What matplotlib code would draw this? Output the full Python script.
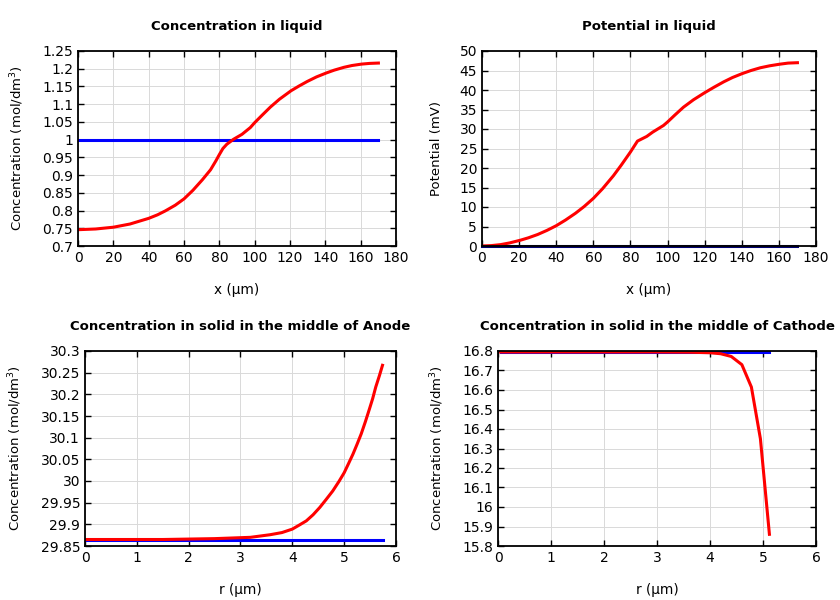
import matplotlib
matplotlib.use('Agg')
import matplotlib.pyplot as plt
from matplotlib.ticker import MultipleLocator, FuncFormatter

plt.rcParams['font.family'] = ['DejaVu Sans']
plt.rcParams['font.size'] = 10

# ── 液相浓度 ──
x_liq = [0, 10, 20, 29.4, 40, 45, 49.4, 55, 60, 65, 70.4, 75, 78, 80, 82, 84.2, 88, 92.8,
         97.5, 100, 104, 108.9, 114, 120.6, 125, 129.7, 135, 140.5, 145, 150.5, 155,
         160.4, 165, 170]
c_liq_end = [0.746, 0.748, 0.753, 0.762, 0.778, 0.788, 0.799, 0.815, 0.833, 0.857, 0.887,
             0.915, 0.940, 0.958, 0.975, 0.987, 1.001, 1.015, 1.034, 1.048, 1.068, 1.092,
             1.114, 1.138, 1.151, 1.164, 1.177, 1.188, 1.196, 1.204, 1.209, 1.213, 1.215, 1.216]
c_liq_init = [1.0] * len(x_liq)

# ── 液相电势 ──
x_phi = [0, 5, 10, 15, 20.8, 25, 30, 35, 40, 45, 50.4, 55, 60, 65, 70.8, 75, 80, 83.8,
         88.8, 92, 97.8, 100, 104, 108.6, 114, 120, 125, 130.3, 135, 140.2, 145, 150,
         155, 160.2, 165, 170]
phi_liq_end = [0.0, 0.1, 0.35, 0.8, 1.5, 2.1, 2.95, 4.0, 5.2, 6.65, 8.4, 10.1, 12.2, 14.7,
               18.0, 20.7, 24.1, 26.9, 28.1, 29.2, 30.9, 31.8, 33.6, 35.6, 37.5, 39.3,
               40.7, 42.1, 43.2, 44.2, 45.0, 45.7, 46.2, 46.6, 46.9, 47.0]
phi_liq_init = [0.0] * len(x_phi)

# ── 负极固相浓度 ──
r_an = [0, 0.5, 1, 1.5, 2, 2.5, 3.19, 3.57, 3.8, 4.0, 4.13, 4.27, 4.4, 4.53, 4.65, 4.78,
        4.9, 5.0, 5.08, 5.17, 5.25, 5.33, 5.41, 5.49, 5.55, 5.61, 5.68, 5.74]
c_an_end = [29.865, 29.865, 29.865, 29.865, 29.866, 29.867, 29.870, 29.876, 29.881, 29.889,
            29.898, 29.908, 29.922, 29.939, 29.957, 29.977, 29.999, 30.019, 30.039, 30.062,
            30.085, 30.109, 30.137, 30.167, 30.190, 30.217, 30.243, 30.267]
c_an_init = [29.864] * len(r_an)

# ── 正极固相浓度 ──
r_ca = [0.05, 1, 2, 3, 3.6, 4.0, 4.2, 4.4, 4.6, 4.78, 4.95, 5.12]
c_ca_end = [16.795, 16.795, 16.795, 16.795, 16.794, 16.791, 16.786, 16.772, 16.730, 16.615, 16.350, 15.860]
c_ca_init = [16.795] * len(r_ca)

fmt = FuncFormatter(lambda v, p: '%g' % round(v, 4))


def style_ax(ax, title, xlabel, ylabel, xlim, xstep, ylim, ystep):
    ax.set_xlim(*xlim)
    ax.set_ylim(*ylim)
    ax.xaxis.set_major_locator(MultipleLocator(xstep))
    ax.yaxis.set_major_locator(MultipleLocator(ystep))
    ax.xaxis.set_major_formatter(fmt)
    ax.yaxis.set_major_formatter(fmt)
    ax.grid(True, color='#d9d9d9', linewidth=0.7)
    ax.set_axisbelow(True)
    ax.tick_params(direction='in', length=4, width=1, top=True, right=True, labelsize=10)
    for s in ax.spines.values():
        s.set_linewidth(1.3)
    ax.set_title(title, fontsize=9.5, fontweight='bold', pad=15)
    ax.set_xlabel(xlabel, labelpad=13, fontsize=9.8)
    ax.set_ylabel(ylabel, labelpad=12, fontsize=9.5)


fig = plt.figure(figsize=(8.4, 6), dpi=100)
ax1 = fig.add_axes([0.0929, 0.59, 0.3786, 0.325])
ax2 = fig.add_axes([0.5738, 0.59, 0.3976, 0.325])
ax3 = fig.add_axes([0.1012, 0.09, 0.3702, 0.325])
ax4 = fig.add_axes([0.5929, 0.09, 0.3786, 0.325])

lw = 2.2
ax1.plot(x_liq, c_liq_init, color='blue', lw=lw)
ax1.plot(x_liq, c_liq_end, color='red', lw=lw)
style_ax(ax1, 'Concentration in liquid', 'x (µm)', 'Concentration (mol/dm$^3$)',
         (0, 180), 20, (0.7, 1.25), 0.05)

ax2.plot(x_phi, phi_liq_init, color='#000070', lw=lw, clip_on=False)
ax2.plot(x_phi, phi_liq_end, color='red', lw=lw)
style_ax(ax2, 'Potential in liquid', 'x (µm)', 'Potential (mV)',
         (0, 180), 20, (0, 50), 5)

ax3.plot(r_an, c_an_init, color='blue', lw=lw)
ax3.plot(r_an, c_an_end, color='red', lw=lw)
style_ax(ax3, 'Concentration in solid in the middle of Anode', 'r (µm)',
         'Concentration (mol/dm$^3$)', (0, 6), 1, (29.85, 30.3), 0.05)

ax4.plot(r_ca, c_ca_init, color='blue', lw=lw)
ax4.plot(r_ca, c_ca_end, color='red', lw=lw)
style_ax(ax4, 'Concentration in solid in the middle of Cathode', 'r (µm)',
         'Concentration (mol/dm$^3$)', (0, 6), 1, (15.8, 16.8), 0.1)

fig.savefig('out.png', dpi=100)
